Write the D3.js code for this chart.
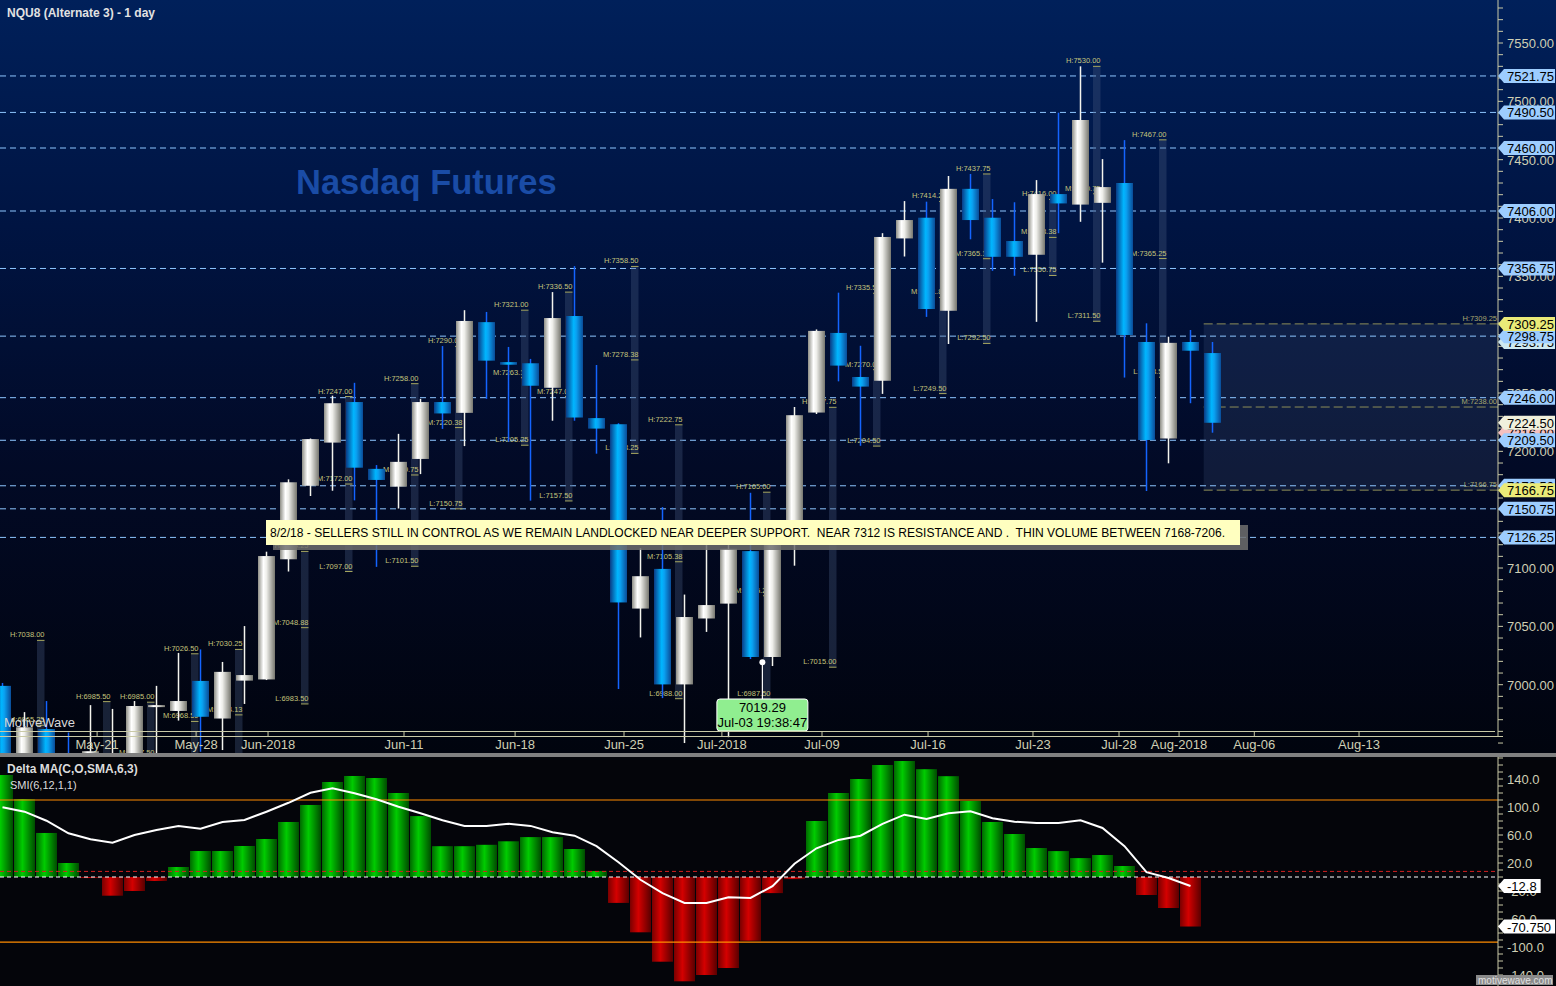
<!DOCTYPE html>
<html>
<head>
<meta charset="utf-8">
<script src="https://cdn.jsdelivr.net/npm/d3@7/dist/d3.min.js"></script>
<style>
html, body { margin: 0; padding: 0; background: #000; }
svg { display: block; font-family: Arial, "Liberation Sans", sans-serif; }
</style>
</head>
<body>
<svg id="chart"></svg>
<script>
"use strict";

// ---- daily bars (NQU8) ----
var opens  = [6999.00, 6932.00, 6962.00, 6940.00, 6935.00, 6925.00, 6936.00, 6981.50, 6977.50, 7003.25,
              6971.00, 7003.50, 7004.50, 7107.50, 7170.50, 7207.50, 7242.25, 7185.00, 7169.75, 7193.50,
              7242.25, 7233.00, 7310.75, 7276.50, 7275.50, 7254.50, 7316.00, 7228.50, 7223.25, 7065.25,
              7099.25, 7000.25, 7056.75, 7069.50, 7114.50, 7023.75, 7125.00, 7233.25, 7301.50, 7263.75,
              7260.50, 7382.50, 7400.25, 7320.50, 7425.00, 7400.25, 7380.25, 7368.50, 7420.50, 7411.50,
              7413.00, 7430.00, 7293.75, 7211.00, 7293.75, 7284.25];
var highs  = [7001.50, 6976.50, 6986.00, 6959.00, 6982.50, 6979.25, 6986.00, 6999.00, 7027.25, 7030.25,
              7019.50, 7050.25, 7114.00, 7176.00, 7211.00, 7247.75, 7258.75, 7188.25, 7215.00, 7245.00,
              7290.25, 7321.00, 7319.50, 7289.50, 7279.25, 7336.50, 7358.75, 7274.00, 7224.00, 7117.00,
              7152.25, 7077.25, 7121.50, 7121.50, 7164.50, 7120.00, 7238.00, 7304.50, 7336.00, 7290.50,
              7387.00, 7414.50, 7414.00, 7436.00, 7437.75, 7416.25, 7413.50, 7432.50, 7490.25, 7530.00,
              7450.50, 7466.75, 7309.75, 7298.25, 7304.00, 7293.75];
var lows   = [6925.00, 6925.00, 6920.00, 6915.00, 6930.00, 6920.00, 6930.00, 6935.00, 6969.25, 6942.50,
              6944.00, 6983.50, 7004.00, 7097.00, 7161.75, 7166.25, 7158.00, 7101.00, 7151.00, 7180.50,
              7219.25, 7204.50, 7245.00, 7208.25, 7157.75, 7226.25, 7226.25, 7198.00, 6996.25, 7040.50,
              6988.50, 6950.00, 7045.25, 6955.00, 7022.00, 7016.00, 7102.00, 7232.00, 7260.00, 7204.75,
              7249.25, 7367.00, 7315.25, 7292.00, 7381.75, 7354.75, 7350.50, 7311.00, 7387.00, 7396.75,
              7361.75, 7263.25, 7166.00, 7189.75, 7241.25, 7216.00];
var closes = [6930.00, 6963.50, 6935.00, 6925.00, 6943.00, 6938.00, 6981.75, 6982.50, 6986.00, 6972.50,
              7011.00, 7008.25, 7110.25, 7173.50, 7210.50, 7241.25, 7186.00, 7175.50, 7191.00, 7242.25,
              7232.50, 7311.75, 7277.75, 7274.25, 7256.25, 7314.25, 7229.00, 7219.50, 7070.50, 7093.00,
              7000.25, 7058.00, 7068.25, 7116.50, 7023.75, 7119.75, 7231.00, 7303.25, 7273.50, 7255.50,
              7383.75, 7398.25, 7322.00, 7425.00, 7398.25, 7366.75, 7366.75, 7420.50, 7412.50, 7484.00,
              7426.50, 7299.75, 7209.75, 7293.00, 7286.25, 7224.50];

// ---- alternate (multi-day) ranges, drawn behind the candles ----
var altBarIndex = [2, 5, 7, 9, 11, 14, 16, 19, 21, 24, 26, 29, 31, 35, 38, 40, 43, 45, 48, 50, 53];
var altHigh = [7038.00, 6985.50, 6985.00, 7026.50, 7030.25, 7114.25, 7247.00, 7258.00, 7290.00, 7321.00, 7336.50,
               7358.50, 7222.75, 7165.00, 7237.75, 7335.50, 7414.25, 7437.75, 7416.00, 7530.00, 7467.00];
var altLow  = [6892.50, 6880.00, 6890.00, 6910.50, 6918.00, 6983.50, 7097.00, 7101.50, 7150.75, 7205.25, 7157.50,
               7198.25, 6988.00, 6987.50, 7015.00, 7204.50, 7249.50, 7292.50, 7350.75, 7311.50, 7263.50];

// projected range for the next period
var projStart = 54.6;
var projHigh = 7309.25;
var projLow = 7166.75;

// support / resistance levels (blue dashed)
var levelPrices = [7521.75, 7490.50, 7460.00, 7406.00, 7356.75, 7298.75, 7246.00, 7209.50, 7170.50, 7150.75, 7126.25];

// axis ticks
var priceTickValues = [7000, 7050, 7100, 7150, 7200, 7250, 7300, 7350, 7400, 7450, 7500, 7550];
var dateTickLabels = ["May-21", "May-28", "Jun-2018", "Jun-11", "Jun-18", "Jun-25", "Jul-2018",
                      "Jul-09", "Jul-16", "Jul-23", "Jul-28", "Aug-2018", "Aug-06", "Aug-13"];
var dateTickPos = [4.3, 8.8, 12.07, 18.25, 23.3, 28.25, 32.7, 37.25, 42.07, 46.84, 50.75, 53.48, 56.9, 61.66];

// ---- lower study ----
var deltaMA = [145.7, 111.4, 62.9, 20.0, -1.5, -26.7, -20.0, -5.7, 14.3, 37.1,
               37.1, 44.3, 54.3, 78.6, 102.9, 135.7, 144.3, 141.4, 120.0, 87.0,
               44.0, 44.0, 46.0, 51.0, 57.0, 57.0, 40.0, 8.6, -37.0, -79.0,
               -121.0, -149.0, -140.0, -130.0, -91.0, -23.0, -3.0, 80.0, 120.0, 140.0,
               160.0, 165.7, 154.0, 144.0, 108.6, 78.6, 61.4, 41.4, 37.0, 27.0,
               31.4, 15.7, -25.7, -44.3, -70.75];
var smi = [99.6, 93.3, 80.4, 62.4, 53.9, 49.0, 60.0, 67.0, 72.9, 69.0,
           78.6, 81.4, 93.3, 106.0, 120.4, 126.7, 119.6, 111.0, 100.4, 91.0,
           81.0, 73.0, 73.0, 76.0, 73.0, 64.0, 59.0, 44.0, 21.0, -4.0,
           -23.0, -37.0, -37.0, -29.0, -30.0, -13.0, 19.0, 41.0, 53.0, 59.0,
           76.0, 89.0, 83.0, 91.0, 94.0, 84.0, 79.0, 77.0, 77.0, 81.0,
           70.0, 44.0, 7.0, -1.4, -12.8];
var studyTickValues = [-140, -100, -60, -20, 20, 60, 100, 140];
var studyBands = [110, -93];
var studySignal = 8;

var noteText = "8/2/18 - SELLERS STILL IN CONTROL AS WE REMAIN LANDLOCKED NEAR DEEPER SUPPORT.  NEAR 7312 IS RESISTANCE AND .  THIN VOLUME BETWEEN 7168-7206.";
var cursorIndex = 34.54;
var cursorPrice = 7019.29;
var cursorTime = "Jul-03 19:38:47";

// ---- layout ----
var _config = {
  width: 1556,
  height: 986,
  plotRight: 1498,
  priceBottom: 753,
  sepBottom: 757,
  candleW: 17,
  histW: 21,
  axisColor: "#c9c9a6",
  labelColor: "#cfcfb4"
};

var xScale = d3.scaleLinear().domain([0, 68]).range([2.5, 1498.5]);
var yScale = d3.scaleLinear().domain([7000, 7550]).range([684.7, 43.0]);
var sScale = d3.scaleLinear().domain([0, 140]).range([877, 779]);

var svg = d3.select("#chart")
  .attr("width", _config.width)
  .attr("height", _config.height);
var defs = svg.append("defs");

function hGradient(id, stops) {
  var g = defs.append("linearGradient").attr("id", id)
    .attr("x1", "0%").attr("x2", "100%").attr("y1", "0%").attr("y2", "0%");
  stops.forEach(function(s) { g.append("stop").attr("offset", s[0]).attr("stop-color", s[1]); });
}

var bg = defs.append("linearGradient").attr("id", "bgPrice")
  .attr("x1", "0%").attr("x2", "0%").attr("y1", "0%").attr("y2", "100%");
[["0", "#00205a"], ["0.3", "#001442"], ["0.62", "#020a26"], ["1", "#01040e"]].forEach(function(s) {
  bg.append("stop").attr("offset", s[0]).attr("stop-color", s[1]);
});
hGradient("upBody", [["0", "#8e8e86"], ["0.32", "#ffffff"], ["0.5", "#eeeeea"], ["1", "#77776f"]]);
hGradient("downBody", [["0", "#0a3c86"], ["0.45", "#00b6ff"], ["0.6", "#0aa2f2"], ["1", "#0a4c98"]]);
hGradient("histUp", [["0", "#006a00"], ["0.4", "#00cc00"], ["1", "#004c00"]]);
hGradient("histDown", [["0", "#7a0000"], ["0.4", "#d40000"], ["1", "#5a0000"]]);

defs.append("clipPath").attr("id", "clipPrice")
  .append("rect").attr("x", 0).attr("y", 0).attr("width", _config.plotRight).attr("height", _config.priceBottom);
defs.append("clipPath").attr("id", "clipStudy")
  .append("rect").attr("x", 0).attr("y", _config.sepBottom)
  .attr("width", _config.plotRight).attr("height", _config.height - _config.sepBottom);

// ---- backgrounds ----
svg.append("rect").attr("width", _config.width).attr("height", _config.priceBottom).attr("fill", "url(#bgPrice)");
svg.append("rect").attr("y", _config.priceBottom).attr("width", _config.width).attr("height", 4).attr("fill", "#808080");
svg.append("rect").attr("y", _config.sepBottom).attr("width", _config.width)
  .attr("height", _config.height - _config.sepBottom).attr("fill", "#04050a");

// ================= price panel =================
var pricePane = svg.append("g").attr("clip-path", "url(#clipPrice)");

// projection box
pricePane.append("rect")
  .attr("x", xScale(projStart)).attr("y", yScale(projHigh))
  .attr("width", _config.plotRight - xScale(projStart))
  .attr("height", yScale(projLow) - yScale(projHigh))
  .attr("fill", "rgba(70,90,130,0.22)");

// blue dashed levels
pricePane.selectAll("line.level").data(levelPrices).enter().append("line")
  .attr("class", "level")
  .attr("x1", 0).attr("x2", _config.plotRight)
  .attr("y1", function(d) { return yScale(d); }).attr("y2", function(d) { return yScale(d); })
  .attr("stroke", "#8ec6ff").attr("stroke-width", 1).attr("stroke-dasharray", "6,4");

// projection H/M/L lines
var projLevels = [["H", projHigh], ["M", (projHigh + projLow) / 2], ["L", projLow]];
pricePane.selectAll("line.proj").data(projLevels).enter().append("line")
  .attr("class", "proj")
  .attr("x1", xScale(projStart)).attr("x2", _config.plotRight)
  .attr("y1", function(d) { return yScale(d[1]); }).attr("y2", function(d) { return yScale(d[1]); })
  .attr("stroke", "#8e8e58").attr("stroke-width", 1).attr("stroke-dasharray", "9,4");
pricePane.selectAll("text.proj").data(projLevels).enter().append("text")
  .attr("class", "proj")
  .attr("x", _config.plotRight - 1).attr("y", function(d) { return yScale(d[1]) - 3; })
  .attr("text-anchor", "end").attr("font-size", 7.5).attr("fill", "#a8a870")
  .text(function(d) { return d[0] + ":" + d[1].toFixed(2); });

// alternate range columns
var alt = altBarIndex.map(function(idx, k) {
  return {i: idx, h: altHigh[k], l: altLow[k], m: (altHigh[k] + altLow[k]) / 2};
});
var altG = pricePane.selectAll("g.alt").data(alt).enter().append("g").attr("class", "alt");
altG.append("rect")
  .attr("x", function(d) { return xScale(d.i) - 9.5; })
  .attr("y", function(d) { return yScale(d.h); })
  .attr("width", 7.5)
  .attr("height", function(d) { return yScale(d.l) - yScale(d.h); })
  .attr("fill", "rgba(70,90,125,0.35)");
altG.each(function(d) {
  var g = d3.select(this);
  [["H", d.h], ["M", d.m], ["L", d.l]].forEach(function(p) {
    var y = yScale(p[1]);
    g.append("line").attr("x1", xScale(d.i) - 9.5).attr("x2", xScale(d.i) - 2)
      .attr("y1", y).attr("y2", y).attr("stroke", "#a8a860").attr("stroke-width", 1);
    g.append("text").attr("x", xScale(d.i) - 2).attr("y", y - 3)
      .attr("text-anchor", "end").attr("font-size", 7.5).attr("fill", "#c4c47c")
      .text(p[0] + ":" + p[1].toFixed(2));
  });
});

// candles
var bars = closes.map(function(c, i) {
  return {i: i, o: opens[i], h: highs[i], l: lows[i], c: c, up: c >= opens[i]};
});
pricePane.selectAll("line.wick").data(bars).enter().append("line")
  .attr("class", "wick")
  .attr("x1", function(d) { return xScale(d.i); }).attr("x2", function(d) { return xScale(d.i); })
  .attr("y1", function(d) { return yScale(d.h); }).attr("y2", function(d) { return yScale(d.l); })
  .attr("stroke", function(d) { return d.up ? "#f4f4ee" : "#1464ff"; })
  .attr("stroke-width", 1.5);
pricePane.selectAll("rect.body").data(bars).enter().append("rect")
  .attr("class", "body")
  .attr("x", function(d) { return xScale(d.i) - _config.candleW / 2; })
  .attr("y", function(d) { return yScale(Math.max(d.o, d.c)); })
  .attr("width", _config.candleW)
  .attr("height", function(d) { return Math.max(2, Math.abs(yScale(d.o) - yScale(d.c))); })
  .attr("fill", function(d) { return d.up ? "url(#upBody)" : "url(#downBody)"; });

// title texts
svg.append("text").attr("x", 7).attr("y", 17).attr("font-size", 12).attr("font-weight", "bold")
  .attr("fill", "#e2e2e2").text("NQU8 (Alternate 3) - 1 day");
svg.append("text").attr("x", 296).attr("y", 194).attr("font-size", 34.5).attr("font-weight", "bold")
  .attr("fill", "#1a4ca6").text("Nasdaq Futures");
svg.append("text").attr("x", 4).attr("y", 727).attr("font-size", 13)
  .attr("fill", "#d8d8d8").text("MotiveWave");

// note box
var note = svg.append("g");
note.append("rect").attr("x", 273).attr("y", 525).attr("width", 975).attr("height", 25)
  .attr("fill", "#6e6e6e").attr("opacity", 0.85);
note.append("rect").attr("x", 266).attr("y", 520).attr("width", 974).attr("height", 25)
  .attr("fill", "#ffffc0");
note.append("text").attr("x", 270).attr("y", 537).attr("font-size", 12.5).attr("fill", "#000")
  .attr("textLength", 955).attr("lengthAdjust", "spacingAndGlyphs")
  .attr("xml:space", "preserve").text(noteText);

// cursor readout
var cx = xScale(cursorIndex), cy = yScale(cursorPrice);
svg.append("line").attr("x1", cx).attr("x2", cx).attr("y1", cy).attr("y2", 699)
  .attr("stroke", "#ffffff").attr("stroke-width", 1.2);
svg.append("circle").attr("cx", cx).attr("cy", cy).attr("r", 3).attr("fill", "#ffffff");
svg.append("rect").attr("x", cx - 45.5).attr("y", 699).attr("width", 91).attr("height", 32).attr("rx", 3)
  .attr("fill", "#90ee90").attr("stroke", "#ffffff").attr("stroke-width", 1);
svg.append("text").attr("x", cx).attr("y", 712).attr("text-anchor", "middle").attr("font-size", 13)
  .attr("fill", "#000").text(cursorPrice.toFixed(2));
svg.append("text").attr("x", cx).attr("y", 727).attr("text-anchor", "middle").attr("font-size", 13)
  .attr("fill", "#000").text(cursorTime);

// date axis
var dateAxis = svg.append("g").attr("stroke", _config.axisColor);
dateAxis.append("line").attr("x1", 0).attr("x2", _config.plotRight - 3).attr("y1", 731.5).attr("y2", 731.5);
dateAxis.append("line").attr("x1", 0).attr("x2", _config.plotRight + 5).attr("y1", 736.5).attr("y2", 736.5);
dateAxis.selectAll("line.dt").data(dateTickPos).enter().append("line").attr("class", "dt")
  .attr("x1", function(d) { return xScale(d); }).attr("x2", function(d) { return xScale(d); })
  .attr("y1", 731.5).attr("y2", 736.5);
svg.selectAll("text.dt").data(dateTickLabels).enter().append("text").attr("class", "dt")
  .attr("x", function(d, k) { return xScale(dateTickPos[k]); }).attr("y", 749)
  .attr("text-anchor", "middle").attr("font-size", 13).attr("fill", _config.labelColor)
  .text(function(d) { return d; });

// price axis
var priceAxisG = svg.append("g").attr("transform", "translate(" + _config.plotRight + ",0)");
priceAxisG.append("line").attr("x1", 0).attr("x2", 0).attr("y1", 0).attr("y2", 737).attr("stroke", _config.axisColor);
priceAxisG.selectAll("line.minor").data(d3.range(6950, 7590, 10)).enter().append("line").attr("class", "minor")
  .attr("x1", 0).attr("x2", 5)
  .attr("y1", function(d) { return yScale(d); }).attr("y2", function(d) { return yScale(d); })
  .attr("stroke", _config.axisColor);
priceAxisG.selectAll("text").data(priceTickValues).enter().append("text")
  .attr("x", 9).attr("y", function(d) { return yScale(d) + 5; })
  .attr("font-size", 13).attr("fill", _config.labelColor)
  .text(function(d) { return d.toFixed(2); });

// price tags
function priceTag(g, y, label, fill, width) {
  var w = width || 57;
  g.append("path")
    .attr("d", "M" + _config.plotRight + "," + y + " L" + (_config.plotRight + 6) + "," + (y - 7) +
      " L" + (_config.plotRight + w) + "," + (y - 7) + " L" + (_config.plotRight + w) + "," + (y + 7) +
      " L" + (_config.plotRight + 6) + "," + (y + 7) + " Z")
    .attr("fill", fill);
  g.append("text").attr("x", _config.plotRight + 9).attr("y", y + 5)
    .attr("font-size", 13).attr("fill", "#000").text(label);
}
var tags = svg.append("g");
var lastBar = bars[bars.length - 1];
priceTag(tags, yScale(lastBar.h), lastBar.h.toFixed(2), "#cde8f0");
priceTag(tags, yScale(lastBar.l), lastBar.l.toFixed(2), "#f4c0c0");
levelPrices.forEach(function(p) { priceTag(tags, yScale(p), p.toFixed(2), "#9dcdff"); });
priceTag(tags, yScale(lastBar.c), lastBar.c.toFixed(2), "#f0f0dc");
priceTag(tags, yScale(projHigh), projHigh.toFixed(2), "#eaea78");
priceTag(tags, yScale(projLow), projLow.toFixed(2), "#eaea78");

// ================= study panel =================
var studyPane = svg.append("g").attr("clip-path", "url(#clipStudy)");

studyPane.selectAll("rect.hist").data(deltaMA).enter().append("rect").attr("class", "hist")
  .attr("x", function(d, i) { return xScale(i) - _config.histW / 2; })
  .attr("y", function(d) { return sScale(Math.max(0, d)); })
  .attr("width", _config.histW)
  .attr("height", function(d) { return Math.abs(sScale(d) - sScale(0)); })
  .attr("fill", function(d) { return d >= 0 ? "url(#histUp)" : "url(#histDown)"; });

studyPane.selectAll("line.band").data(studyBands).enter().append("line").attr("class", "band")
  .attr("x1", 0).attr("x2", _config.plotRight)
  .attr("y1", function(d) { return sScale(d); }).attr("y2", function(d) { return sScale(d); })
  .attr("stroke", "#ff8c00").attr("stroke-width", 1.2);
studyPane.append("line").attr("x1", 0).attr("x2", _config.plotRight)
  .attr("y1", sScale(studySignal)).attr("y2", sScale(studySignal))
  .attr("stroke", "#d42020").attr("stroke-dasharray", "4,3");
studyPane.append("line").attr("x1", 0).attr("x2", _config.plotRight)
  .attr("y1", sScale(0)).attr("y2", sScale(0))
  .attr("stroke", "#ffffff").attr("stroke-dasharray", "4,3");

var smiLine = d3.line()
  .x(function(d, i) { return xScale(i); })
  .y(function(d) { return sScale(d); });
studyPane.append("path").attr("d", smiLine(smi))
  .attr("fill", "none").attr("stroke", "#ffffff").attr("stroke-width", 2);

svg.append("text").attr("x", 7).attr("y", 773).attr("font-size", 12).attr("font-weight", "bold")
  .attr("fill", "#dcdcdc").text("Delta MA(C,O,SMA,6,3)");
svg.append("text").attr("x", 10).attr("y", 789).attr("font-size", 11)
  .attr("fill", "#dcdcdc").text("SMI(6,12,1,1)");

// study axis
var studyAxisG = svg.append("g").attr("transform", "translate(" + _config.plotRight + ",0)");
studyAxisG.append("line").attr("x1", 0).attr("x2", 0).attr("y1", _config.sepBottom).attr("y2", _config.height)
  .attr("stroke", _config.axisColor);
studyAxisG.selectAll("line.minor").data(d3.range(-150, 171, 10)).enter().append("line").attr("class", "minor")
  .attr("x1", 0).attr("x2", 5)
  .attr("y1", function(d) { return sScale(d); }).attr("y2", function(d) { return sScale(d); })
  .attr("stroke", _config.axisColor);
studyAxisG.selectAll("text").data(studyTickValues).enter().append("text")
  .attr("x", 9).attr("y", function(d) { return sScale(d) + 5; })
  .attr("font-size", 13).attr("fill", _config.labelColor)
  .text(function(d) { return d.toFixed(1); });

function studyTag(value, label) {
  var y = sScale(value);
  var g = svg.append("g");
  var t = g.append("text").attr("x", _config.plotRight + 9).attr("y", y + 5)
    .attr("font-size", 13).attr("fill", "#000").text(label);
  var w = t.node().getComputedTextLength() + 13;
  g.insert("path", "text")
    .attr("d", "M" + _config.plotRight + "," + y + " L" + (_config.plotRight + 6) + "," + (y - 7) +
      " L" + (_config.plotRight + w) + "," + (y - 7) + " L" + (_config.plotRight + w) + "," + (y + 7) +
      " L" + (_config.plotRight + 6) + "," + (y + 7) + " Z")
    .attr("fill", "#ffffff");
}
studyTag(smi[smi.length - 1], smi[smi.length - 1].toFixed(1));
studyTag(deltaMA[deltaMA.length - 1], deltaMA[deltaMA.length - 1].toFixed(3));

// watermark
svg.append("rect").attr("x", 1476).attr("y", 975).attr("width", 77).attr("height", 10).attr("fill", "#8a8a8a");
svg.append("text").attr("x", 1478).attr("y", 984).attr("font-size", 10).attr("fill", "#e0e0e0").text("motivewave.com");
</script>
</body>
</html>
